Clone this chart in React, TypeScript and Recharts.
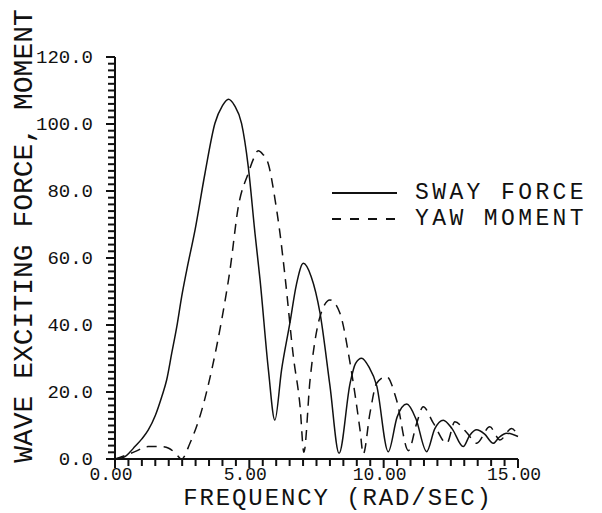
import React from 'react';
import { LineChart, Line, XAxis, YAxis } from 'recharts';

// frequency (rad/sec) and amplitude
const swayFreq = [0, 0.2, 0.37, 0.55, 0.74, 1.0, 1.24, 1.5, 1.74, 1.92, 2.11, 2.3, 2.48, 2.67, 2.98, 3.35, 3.72, 4.0, 4.22, 4.45, 4.71, 4.96, 5.21, 5.4, 5.71, 5.95, 6.2, 6.51, 6.75, 7.01, 7.3, 7.63, 8.0, 8.34, 8.75, 8.95, 9.18, 9.45, 9.74, 10.17, 10.5, 10.86, 11.2, 11.6, 11.9, 12.22, 12.55, 12.96, 13.2, 13.46, 13.75, 14.08, 14.3, 14.58, 15.0];
const swayForce = [0, 0.2, 0.7, 2.0, 3.7, 6.0, 8.7, 13.0, 18.6, 23.5, 31.5, 39.5, 48.4, 56.4, 68.4, 85.3, 100.2, 105.5, 107.4, 105.5, 100.2, 87.3, 67.4, 53.4, 26.6, 11.6, 26.6, 40.6, 52.0, 58.4, 54.5, 43.6, 21.9, 1.7, 22.6, 28.5, 30.1, 27.5, 21.9, 2.2, 12.5, 16.4, 12.0, 2.2, 9.0, 11.6, 9.0, 3.7, 7.0, 8.7, 7.5, 4.7, 6.5, 7.7, 6.7];

const yawFreq = [0, 0.3, 0.74, 1.24, 1.74, 2.0, 2.23, 2.48, 2.79, 3.23, 3.6, 3.97, 4.28, 4.59, 4.96, 5.15, 5.33, 5.5, 5.71, 5.96, 6.14, 6.33, 6.64, 6.89, 7.03, 7.26, 7.63, 8.0, 8.37, 8.75, 9.12, 9.24, 9.49, 9.74, 10.11, 10.48, 10.92, 11.23, 11.47, 11.85, 12.35, 12.65, 13.08, 13.46, 13.95, 14.33, 14.76, 15.0];
const yawMoment = [0, 0.8, 2.2, 3.7, 3.7, 3.2, 1.9, 0, 4.7, 14.6, 26.6, 41.5, 56.4, 75.3, 85.3, 89.5, 92.0, 91.0, 88.0, 77.3, 67.4, 54.4, 30.5, 15.6, 2.0, 23.6, 42.5, 47.5, 43.6, 28.6, 8.7, 1.5, 13.7, 22.6, 24.6, 17.6, 2.5, 10.7, 15.6, 10.7, 4.7, 11.1, 8.0, 4.7, 9.6, 5.7, 9.1, 7.0];

const xTicks = Array.from({ length: 31 }, (_, i) => i * 0.5);
const xLabels = [0, 5, 10, 15];
const yTicks = Array.from({ length: 61 }, (_, i) => i * 2);
const yLabels = [0, 20, 40, 60, 80, 100, 120];

const swayData = swayFreq.map((f, i) => ({ f, v: swayForce[i] }));
const yawData = yawFreq.map((f, i) => ({ f, v: yawMoment[i] }));

const FONT = '"Liberation Mono", "DejaVu Sans Mono", monospace';
const INK = '#111';

// tick marks as small filled rects, label only on the major ones
const XTick = ({ x, y, payload }: any) => {
  const major = xLabels.includes(payload.value);
  return (
    <g>
      <rect x={x - 1} y={y} width={2} height={major ? 9 : 7} fill={INK} />
      {major && (
        <text x={x - 4} y={y + 21} textAnchor="middle" fontFamily={FONT} fontSize={18} fill={INK}>
          {payload.value.toFixed(2)}
        </text>
      )}
    </g>
  );
};

const YTick = ({ x, y, payload }: any) => {
  const major = yLabels.includes(payload.value);
  return (
    <g>
      <rect x={x - (major ? 9 : 7)} y={y - 1} width={major ? 9 : 7} height={2} fill={INK} />
      {major && (
        <text x={x - 22} y={y + 6} textAnchor="end" fontFamily={FONT} fontSize={19} fill={INK}>
          {payload.value.toFixed(1)}
        </text>
      )}
    </g>
  );
};

const legendItems = [
  { name: 'SWAY FORCE', dash: undefined },
  { name: 'YAW MOMENT', dash: '9 9' },
];

const App = () => {
  return (
    <div style={{ position: 'absolute', left: 0, top: 0, width: 602, height: 513, background: '#fff' }}>
      <LineChart width={602} height={513} data={swayData} margin={{ top: 57, right: 84, bottom: 0, left: 0 }}>
        <XAxis
          type="number"
          dataKey="f"
          domain={[0, 15]}
          ticks={xTicks}
          interval={0}
          height={54}
          tickSize={0}
          tickMargin={0}
          tickLine={false}
          tick={<XTick />}
          axisLine={{ stroke: INK, strokeWidth: 2 }}
          label={() => (
            <text x={338} y={505} textAnchor="middle" fontFamily={FONT} fontSize={24} letterSpacing={1.9} fill={INK}>
              FREQUENCY (RAD/SEC)
            </text>
          )}
        />
        <YAxis
          type="number"
          domain={[0, 120]}
          ticks={yTicks}
          interval={0}
          width={115}
          tickSize={0}
          tickMargin={0}
          tickLine={false}
          tick={<YTick />}
          axisLine={{ stroke: INK, strokeWidth: 2 }}
          label={() => (
            <text
              x={32}
              y={236}
              transform="rotate(-90 32 236)"
              textAnchor="middle"
              fontFamily={FONT}
              fontSize={28}
              fill={INK}
            >
              WAVE EXCITING FORCE, MOMENT
            </text>
          )}
        />
        <Line
          data={swayData}
          dataKey="v"
          name="SWAY FORCE"
          type="monotone"
          stroke={INK}
          strokeWidth={1.5}
          dot={false}
          isAnimationActive={false}
        />
        <Line
          data={yawData}
          dataKey="v"
          name="YAW MOMENT"
          type="monotone"
          stroke={INK}
          strokeWidth={1.5}
          strokeDasharray="10 7"
          dot={false}
          isAnimationActive={false}
        />
      </LineChart>
      <div style={{ position: 'absolute', left: 332, top: 180, fontFamily: FONT, fontSize: 23, letterSpacing: 3.4, color: INK }}>
        {legendItems.map((item) => (
          <div key={item.name} style={{ display: 'flex', alignItems: 'center', height: 26, lineHeight: '26px', whiteSpace: 'nowrap' }}>
            <svg width={65} height={26} style={{ marginRight: 18 }}>
              <line x1={0} y1={13} x2={65} y2={13} stroke={INK} strokeWidth={2} strokeDasharray={item.dash} />
            </svg>
            <div>{item.name}</div>
          </div>
        ))}
      </div>
    </div>
  );
};

export default App;
